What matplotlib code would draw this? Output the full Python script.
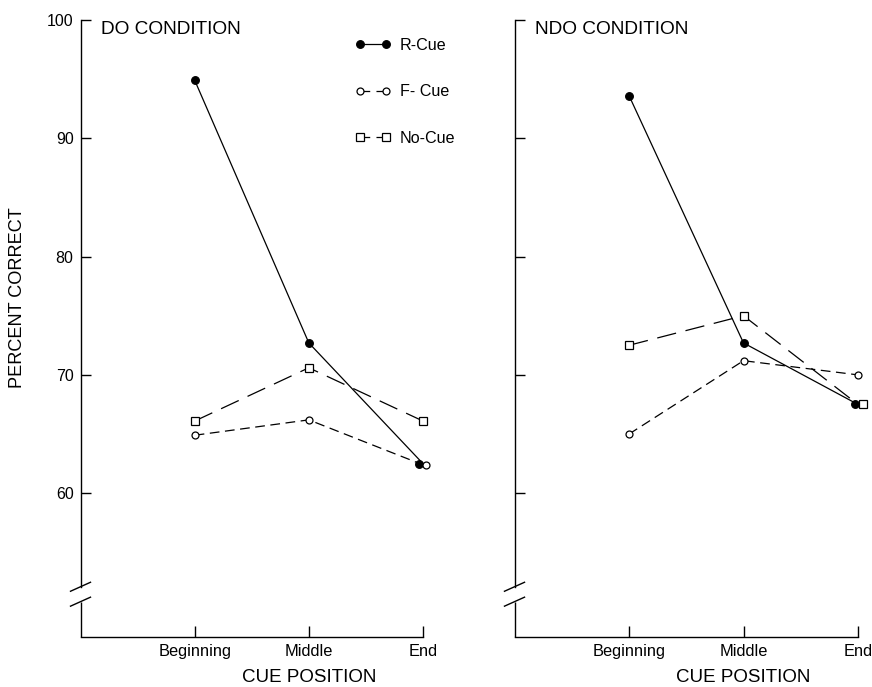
import matplotlib
matplotlib.use('Agg')
import matplotlib.pyplot as plt
from matplotlib.lines import Line2D
from matplotlib.transforms import offset_copy, blended_transform_factory
import numpy as np

plt.rcParams['font.family'] = ['Liberation Sans', 'DejaVu Sans']
plt.rcParams['lines.scale_dashes'] = False

# ---------------- data ----------------
positions = ['Beginning', 'Middle', 'End']
series_names = ['R-Cue', 'F- Cue', 'No-Cue']
do_r_cue = [94.9, 72.7, 62.5]
do_f_cue = [64.9, 66.2, 62.4]
do_no_cue = [66.1, 70.6, 66.1]
ndo_r_cue = [93.6, 72.7, 67.5]
ndo_f_cue = [65.0, 71.2, 70.0]
ndo_no_cue = [72.5, 75.0, 67.5]
y_ticks = [60, 70, 80, 90, 100]
panel_titles = ['DO CONDITION', 'NDO CONDITION']
y_label = 'PERCENT CORRECT'
x_label = 'CUE POSITION'

# ---------------- style ----------------
styles = {
    'R-Cue': dict(ls='-', marker='o', mfc='black', ms=5.5, leg_ls='-'),
    'F- Cue': dict(ls=(0, (7, 4)), marker='o', mfc='white', ms=5,
                   leg_ls=(0, (7, 4.5))),
    'No-Cue': dict(ls=(0, (14, 7)), marker='s', mfc='white', ms=6,
                   leg_ls=(0, (7, 4.5))),
}
# small pixel nudges of the End markers so overlapping markers stay visible
end_nudges = [
    {'R-Cue': -3.7, 'F- Cue': 3.0},
    {'R-Cue': -3.3, 'No-Cue': 4.5},
]
LW = 0.9
Y_BOTTOM, Y_TOP = 47.83, 100
BREAK_LO, BREAK_HI = 50.84, 52.1

W, H = 872, 687
fig = plt.figure(figsize=(W / 100, H / 100), dpi=100)
ax_l = fig.add_axes([80.5 / W, 1 - 637.3 / H, 342.5 / W, 617.5 / H])
ax_r = fig.add_axes([514.5 / W, 1 - 637.3 / H, 343.5 / W, 617.5 / H])
axes = [ax_l, ax_r]
panel_data = [
    {'R-Cue': do_r_cue, 'F- Cue': do_f_cue, 'No-Cue': do_no_cue},
    {'R-Cue': ndo_r_cue, 'F- Cue': ndo_f_cue, 'No-Cue': ndo_no_cue},
]

x = np.arange(len(positions))
for i, ax in enumerate(axes):
    ax.set_xlim(-1, len(positions) - 1)
    ax.set_ylim(Y_BOTTOM, Y_TOP)
    for s in ['top', 'right']:
        ax.spines[s].set_visible(False)
    for s in ['left', 'bottom']:
        ax.spines[s].set_linewidth(1.0)
    ax.spines['left'].set_bounds(BREAK_HI, Y_TOP)
    ytr = ax.get_yaxis_transform()
    ax.plot([0, 0], [Y_BOTTOM, BREAK_LO], transform=ytr, color='black', lw=1.0,
            clip_on=False, solid_capstyle='butt')
    dx = 10 / 342.5
    for yb in (BREAK_HI, BREAK_LO):
        ax.plot([-dx, dx], [yb - 0.38, yb + 0.38], transform=ytr, color='black',
                lw=1.0, clip_on=False)
    ax.set_xticks(x)
    ax.set_xticklabels(positions)
    ax.set_yticks(y_ticks)
    ax.tick_params(axis='y', direction='in', length=7.5, width=1.0, pad=5,
                   labelsize=11.5)
    ax.tick_params(axis='x', direction='in', length=8, width=1.0, pad=5,
                   labelsize=11.8)
    if i == 1:
        ax.tick_params(axis='y', labelleft=False)

    for name in series_names:
        vals = panel_data[i][name]
        st = styles[name]
        nudge = end_nudges[i].get(name)
        ax.plot(x, vals, color='black', lw=LW, ls=st['ls'], marker=st['marker'],
                ms=st['ms'], mfc=st['mfc'], mec='black', mew=LW, clip_on=False,
                markevery=list(range(len(x) - 1)) if nudge else None,
                zorder=3)
        if nudge:
            tr = offset_copy(ax.transData, fig=fig, x=nudge, y=0, units='dots')
            ax.plot([x[-1]], [vals[-1]], transform=tr, ls='none',
                    marker=st['marker'], ms=st['ms'], mfc=st['mfc'], mec='black',
                    mew=LW, clip_on=False, zorder=4)

    ax.text(20.5 / 342.5, (637.3 - 34.3) / 617.5, panel_titles[i],
            transform=ax.transAxes, ha='left', va='baseline', fontsize=13.7)
    btr = blended_transform_factory(ax.transData, fig.transFigure)
    ax.text(1, 1 - 682 / H, x_label, transform=btr, ha='center', va='baseline',
            fontsize=13.5)

fig.text(18 / W, 1 - 298 / H, y_label, rotation=90, ha='center', va='center',
         fontsize=13.1)

handles = []
for name in series_names:
    st = styles[name]
    handles.append(Line2D([], [], color='black', lw=LW, ls=st['leg_ls'],
                          marker=st['marker'], ms=st['ms'], mfc=st['mfc'],
                          mec='black', mew=LW))
ax_l.legend(handles, series_names, loc='upper left',
            bbox_to_anchor=(355 / W, 1 - 38 / H), bbox_transform=fig.transFigure,
            frameon=False, numpoints=2, handlelength=2.2, handletextpad=0.6,
            labelspacing=1.95, fontsize=11.6, borderpad=0, borderaxespad=0)

fig.savefig('out.png', dpi=100)
